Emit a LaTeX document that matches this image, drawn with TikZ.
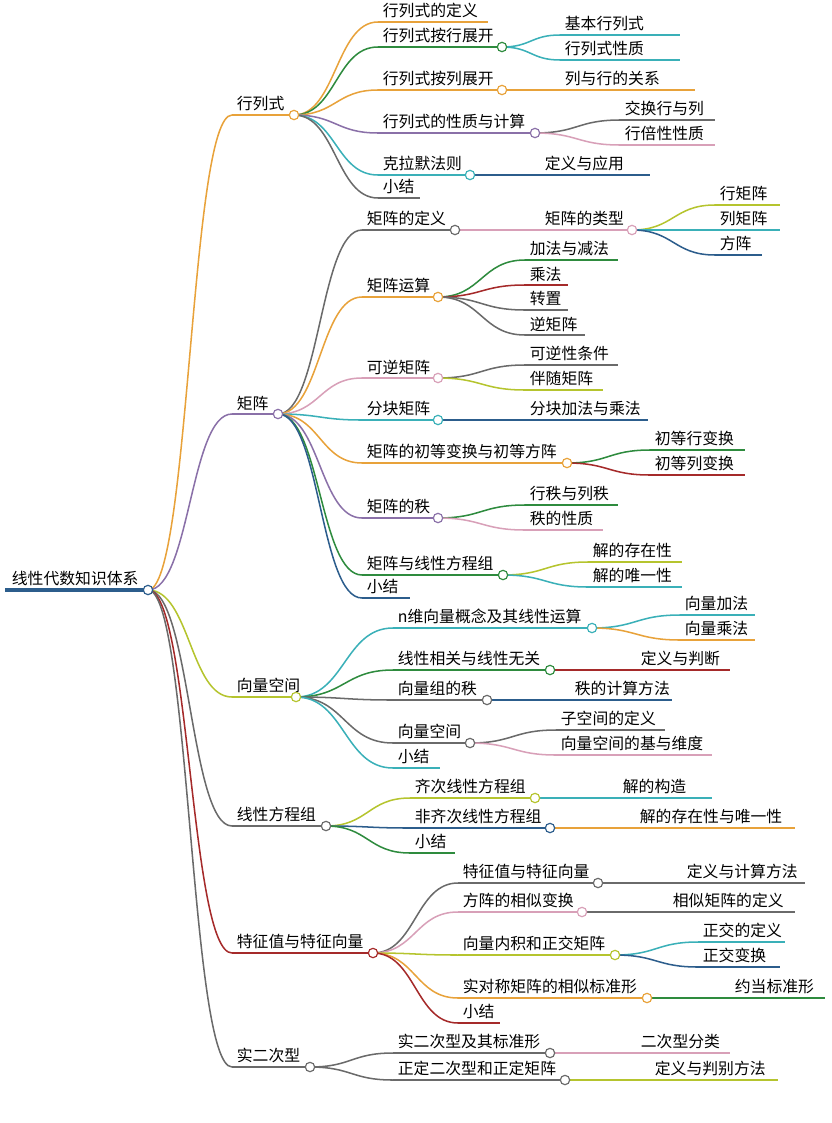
\documentclass[tikz,border=0pt]{standalone}
\usepackage{fontspec}
\setmainfont{Noto Sans CJK SC}
\usepackage{tikz}
\usetikzlibrary{positioning, calc}
\pgfdeclarelayer{bg}
\pgfsetlayers{bg,main}

\definecolor{cOr}{HTML}{E8A23A}
\definecolor{cGr}{HTML}{2E8B3E}
\definecolor{cTe}{HTML}{3AB0B8}
\definecolor{cPu}{HTML}{8A70A8}
\definecolor{cBl}{HTML}{2C5D8C}
\definecolor{cGy}{HTML}{6A6A6A}
\definecolor{cPk}{HTML}{D8A0B8}
\definecolor{cYg}{HTML}{B5C42E}
\definecolor{cRd}{HTML}{A52A2A}

\tikzset{
  lbl/.style={inner xsep=4pt, inner ysep=3pt, font=\fontsize{13.5}{15}\selectfont, anchor=south west},
  uline/.style={line width=1.3pt},
  dot/.style={circle, fill=white, line width=1pt, inner sep=0pt, minimum size=8pt},
  link/.style={line width=1.3pt}
}

% name, x start, x end, y, colour, text
\newcommand{\mmnode}[6]{%
  \coordinate (#1-s) at (#2,#4);
  \coordinate (#1-e) at (#3,#4);
  \node[lbl] (#1) at (#1-s) {#6};
  \draw[uline, #5] (#1-s) -- (#1-e);
}
% node with a dot at the end
\newcommand{\mmdot}[2]{\node[dot, draw=#2] (#1-dot) at (#1-e) {};}
% parent, child, colour
\newcommand{\mmlink}[3]{%
  \begin{pgfonlayer}{bg}
  \draw[link, #3] let \p1=(#1-dot.center), \p2=(#2-s), \n1={(\x2-\x1)*0.5} in
    (#1-dot.center) .. controls (\x1+\n1,\y1) and (\x2-\n1,\y2) .. (#2-s);
  \end{pgfonlayer}
}

\begin{document}
\begin{tikzpicture}[x=0.03cm, y=-0.03cm]
\useasboundingbox (0,0) rectangle (831,1123);

% root
\coordinate (root-s) at (5,590);
\coordinate (root-e) at (148,590);
\node[lbl] (root) at (7,590) {线性代数知识体系};
\draw[line width=2.6pt, cBl] (root-s) -- (root-e);
\mmdot{root}{cBl}

% first level
\mmnode{det}{232}{294}{115}{cOr}{行列式}       \mmdot{det}{cOr}
\mmnode{mat}{232}{278}{414}{cPu}{矩阵}         \mmdot{mat}{cPu}
\mmnode{vec}{232}{296}{697}{cYg}{向量空间}     \mmdot{vec}{cYg}
\mmnode{les}{232}{326}{826}{cGy}{线性方程组}   \mmdot{les}{cGy}
\mmnode{eig}{232}{373}{953}{cRd}{特征值与特征向量} \mmdot{eig}{cRd}
\mmnode{quad}{232}{310}{1067}{cGy}{实二次型}   \mmdot{quad}{cGy}
\mmlink{root}{det}{cOr}
\mmlink{root}{mat}{cPu}
\mmlink{root}{vec}{cYg}
\mmlink{root}{les}{cGy}
\mmlink{root}{eig}{cRd}
\mmlink{root}{quad}{cGy}

% determinants
\mmnode{detA}{378}{488}{22}{cOr}{行列式的定义}
\mmnode{detB}{378}{502}{47}{cGr}{行列式按行展开}       \mmdot{detB}{cGr}
\mmnode{detC}{378}{502}{90}{cOr}{行列式按列展开}       \mmdot{detC}{cOr}
\mmnode{detD}{378}{535}{133}{cPu}{行列式的性质与计算}  \mmdot{detD}{cPu}
\mmnode{detE}{378}{470}{175}{cTe}{克拉默法则}           \mmdot{detE}{cTe}
\mmnode{detF}{378}{420}{198}{cGy}{小结}
\foreach \c/\k in {detA/cOr, detB/cGr, detC/cOr, detD/cPu, detE/cTe, detF/cGy}
  {\mmlink{det}{\c}{\k}}
\mmnode{detBa}{560}{680}{35}{cTe}{基本行列式}
\mmnode{detBb}{560}{680}{60}{cTe}{行列式性质}
\mmnode{detCa}{560}{695}{90}{cOr}{列与行的关系}
\mmnode{detDa}{620}{715}{120}{cGy}{交换行与列}
\mmnode{detDb}{620}{715}{145}{cPk}{行倍性性质}
\mmnode{detEa}{540}{650}{175}{cBl}{定义与应用}
\mmlink{detB}{detBa}{cTe}
\mmlink{detB}{detBb}{cTe}
\mmlink{detC}{detCa}{cOr}
\mmlink{detD}{detDa}{cGy}
\mmlink{detD}{detDb}{cPk}
\mmlink{detE}{detEa}{cBl}

% matrices
\mmnode{matA}{362}{455}{230}{cGy}{矩阵的定义}       \mmdot{matA}{cGy}
\mmnode{matB}{362}{438}{297}{cOr}{矩阵运算}         \mmdot{matB}{cOr}
\mmnode{matC}{362}{438}{378}{cPk}{可逆矩阵}         \mmdot{matC}{cPk}
\mmnode{matD}{362}{438}{420}{cTe}{分块矩阵}         \mmdot{matD}{cTe}
\mmnode{matE}{362}{567}{463}{cOr}{矩阵的初等变换与初等方阵} \mmdot{matE}{cOr}
\mmnode{matF}{362}{438}{518}{cPu}{矩阵的秩}         \mmdot{matF}{cPu}
\mmnode{matG}{362}{503}{575}{cGr}{矩阵与线性方程组} \mmdot{matG}{cGr}
\mmnode{matH}{362}{410}{598}{cBl}{小结}
\foreach \c/\k in {matA/cGy, matB/cOr, matC/cPk, matD/cTe, matE/cOr, matF/cPu, matG/cGr, matH/cBl}
  {\mmlink{mat}{\c}{\k}}
\mmnode{matAa}{540}{632}{230}{cPk}{矩阵的类型}      \mmdot{matAa}{cPk}
\mmlink{matA}{matAa}{cPk}
\mmnode{matAaa}{715}{780}{205}{cYg}{行矩阵}
\mmnode{matAab}{715}{780}{230}{cTe}{列矩阵}
\mmnode{matAac}{715}{762}{255}{cBl}{方阵}
\mmlink{matAa}{matAaa}{cYg}
\mmlink{matAa}{matAab}{cTe}
\mmlink{matAa}{matAac}{cBl}
\mmnode{matBa}{525}{618}{260}{cGr}{加法与减法}
\mmnode{matBb}{525}{568}{285}{cRd}{乘法}
\mmnode{matBc}{525}{568}{310}{cGy}{转置}
\mmnode{matBd}{525}{585}{335}{cGy}{逆矩阵}
\foreach \c/\k in {matBa/cGr, matBb/cRd, matBc/cGy, matBd/cGy}
  {\mmlink{matB}{\c}{\k}}
\mmnode{matCa}{525}{618}{365}{cGy}{可逆性条件}
\mmnode{matCb}{525}{603}{390}{cYg}{伴随矩阵}
\mmlink{matC}{matCa}{cGy}
\mmlink{matC}{matCb}{cYg}
\mmnode{matDa}{525}{648}{420}{cBl}{分块加法与乘法}
\mmlink{matD}{matDa}{cBl}
\mmnode{matEa}{650}{745}{450}{cGr}{初等行变换}
\mmnode{matEb}{650}{745}{475}{cRd}{初等列变换}
\mmlink{matE}{matEa}{cGr}
\mmlink{matE}{matEb}{cRd}
\mmnode{matFa}{525}{618}{505}{cGr}{行秩与列秩}
\mmnode{matFb}{525}{603}{530}{cPk}{秩的性质}
\mmlink{matF}{matFa}{cGr}
\mmlink{matF}{matFb}{cPk}
\mmnode{matGa}{588}{682}{562}{cYg}{解的存在性}
\mmnode{matGb}{588}{682}{587}{cTe}{解的唯一性}
\mmlink{matG}{matGa}{cYg}
\mmlink{matG}{matGb}{cTe}

% vector spaces
\mmnode{vecA}{393}{592}{628}{cTe}{n维向量概念及其线性运算} \mmdot{vecA}{cTe}
\mmnode{vecB}{393}{550}{670}{cGr}{线性相关与线性无关}       \mmdot{vecB}{cGr}
\mmnode{vecC}{393}{487}{700}{cGy}{向量组的秩}               \mmdot{vecC}{cGy}
\mmnode{vecD}{393}{470}{743}{cGy}{向量空间}                 \mmdot{vecD}{cGy}
\mmnode{vecE}{393}{440}{768}{cTe}{小结}
\foreach \c/\k in {vecA/cTe, vecB/cGr, vecC/cGy, vecD/cGy, vecE/cTe}
  {\mmlink{vec}{\c}{\k}}
\mmnode{vecAa}{680}{755}{615}{cTe}{向量加法}
\mmnode{vecAb}{680}{755}{640}{cOr}{向量乘法}
\mmnode{vecBa}{636}{730}{670}{cRd}{定义与判断}
\mmnode{vecCa}{570}{672}{700}{cBl}{秩的计算方法}
\mmnode{vecDa}{556}{665}{730}{cGy}{子空间的定义}
\mmnode{vecDb}{556}{712}{755}{cPk}{向量空间的基与维度}
\mmlink{vecA}{vecAa}{cTe}
\mmlink{vecA}{vecAb}{cOr}
\mmlink{vecB}{vecBa}{cRd}
\mmlink{vecC}{vecCa}{cBl}
\mmlink{vecD}{vecDa}{cGy}
\mmlink{vecD}{vecDb}{cPk}

% linear systems
\mmnode{lesA}{410}{535}{798}{cYg}{齐次线性方程组}   \mmdot{lesA}{cYg}
\mmnode{lesB}{410}{550}{828}{cBl}{非齐次线性方程组} \mmdot{lesB}{cBl}
\mmnode{lesC}{410}{455}{853}{cGr}{小结}
\foreach \c/\k in {lesA/cYg, lesB/cBl, lesC/cGr}
  {\mmlink{les}{\c}{\k}}
\mmnode{lesAa}{618}{712}{798}{cTe}{解的构造}
\mmnode{lesBa}{635}{795}{828}{cOr}{解的存在性与唯一性}
\mmlink{lesA}{lesAa}{cTe}
\mmlink{lesB}{lesBa}{cOr}

% eigenvalues
\mmnode{eigA}{458}{598}{883}{cGy}{特征值与特征向量}       \mmdot{eigA}{cGy}
\mmnode{eigB}{458}{582}{912}{cPk}{方阵的相似变换}         \mmdot{eigB}{cPk}
\mmnode{eigC}{458}{615}{955}{cYg}{向量内积和正交矩阵}     \mmdot{eigC}{cYg}
\mmnode{eigD}{458}{647}{998}{cOr}{实对称矩阵的相似标准形} \mmdot{eigD}{cOr}
\mmnode{eigE}{458}{500}{1023}{cRd}{小结}
\foreach \c/\k in {eigA/cGy, eigB/cPk, eigC/cYg, eigD/cOr, eigE/cRd}
  {\mmlink{eig}{\c}{\k}}
\mmnode{eigAa}{682}{805}{883}{cGy}{定义与计算方法}
\mmnode{eigBa}{668}{795}{912}{cGy}{相似矩阵的定义}
\mmnode{eigCa}{698}{785}{942}{cTe}{正交的定义}
\mmnode{eigCb}{698}{780}{967}{cBl}{正交变换}
\mmnode{eigDa}{730}{825}{998}{cGr}{约当标准形}
\mmlink{eigA}{eigAa}{cGy}
\mmlink{eigB}{eigBa}{cGy}
\mmlink{eigC}{eigCa}{cTe}
\mmlink{eigC}{eigCb}{cBl}
\mmlink{eigD}{eigDa}{cGr}

% quadratic forms
\mmnode{quadA}{393}{550}{1053}{cGy}{实二次型及其标准形}   \mmdot{quadA}{cGy}
\mmnode{quadB}{393}{565}{1080}{cGy}{正定二次型和正定矩阵} \mmdot{quadB}{cGy}
\mmlink{quad}{quadA}{cGy}
\mmlink{quad}{quadB}{cGy}
\mmnode{quadAa}{636}{730}{1053}{cPk}{二次型分类}
\mmnode{quadBa}{650}{778}{1080}{cYg}{定义与判别方法}
\mmlink{quadA}{quadAa}{cPk}
\mmlink{quadB}{quadBa}{cYg}

\end{tikzpicture}
\end{document}
